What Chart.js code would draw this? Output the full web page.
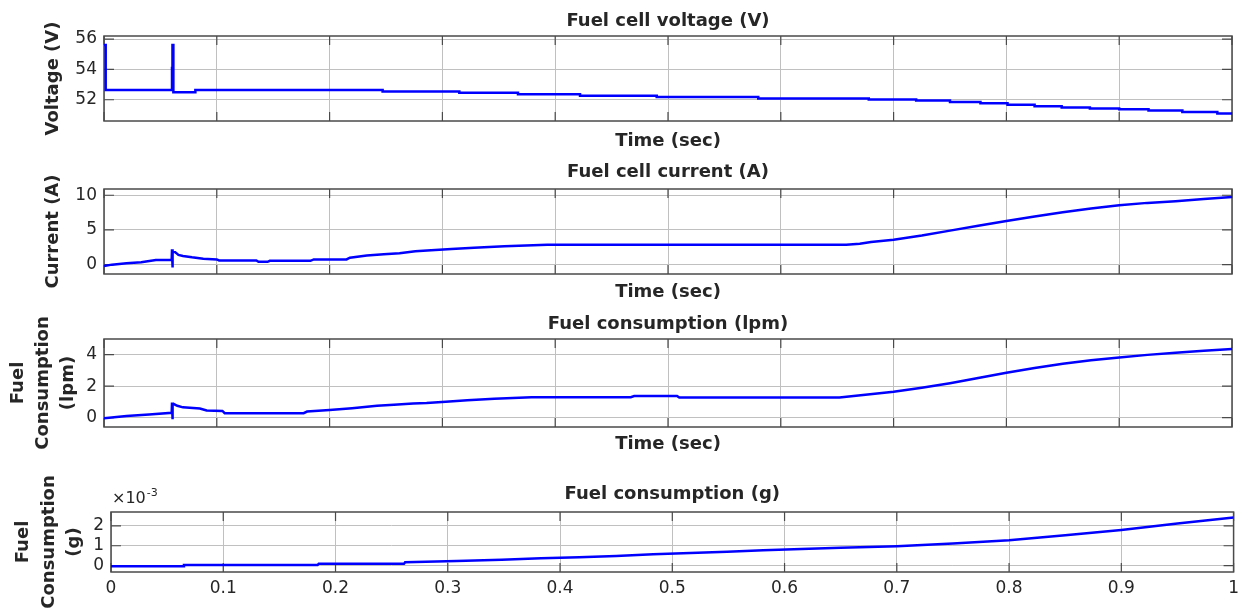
<!DOCTYPE html>
<html>
<head>
<meta charset="utf-8">
<title>Fuel cell</title>
<script src="https://cdn.jsdelivr.net/npm/chart.js"></script>
<style>
  body { margin: 0; background: #fff; }
  #wrap { position: relative; width: 1239px; height: 611px; overflow: hidden; }
  canvas { position: absolute; left: 0; }
</style>
</head>
<body>
<div id="wrap">
  <canvas id="c1" width="1239" height="160" style="top:0px"></canvas>
  <canvas id="c2" width="1239" height="160" style="top:150px"></canvas>
  <canvas id="c3" width="1239" height="160" style="top:300px"></canvas>
  <!-- a bit wider so the "1" tick label overflow doesn't pull the plot in -->
  <canvas id="c4" width="1245" height="156" style="top:455px"></canvas>
</div>
<script>
// time axis ticks (sec)
const timeTicks = [0, 0.1, 0.2, 0.3, 0.4, 0.5, 0.6, 0.7, 0.8, 0.9, 1];

// fuel cell voltage (V) - each value holds until the next time
const voltT = [0, 0.0015, 0.0603, 0.0607, 0.0615, 0.081, 0.247, 0.315, 0.367, 0.422, 0.49, 0.58,
  0.678, 0.72, 0.75, 0.777, 0.801, 0.825, 0.849, 0.874, 0.9, 0.926, 0.956, 0.987, 1.0];
const voltV = [55.6, 52.64, 54.1, 55.6, 52.5, 52.64, 52.55, 52.46, 52.36, 52.27, 52.18, 52.09,
  52.02, 51.95, 51.86, 51.77, 51.67, 51.58, 51.49, 51.43, 51.37, 51.29, 51.2, 51.1, 51.1];

// fuel cell current (A)
const curT = [0, 0.007, 0.02, 0.033, 0.046, 0.0600, 0.0603, 0.0606, 0.0610, 0.063, 0.066, 0.07, 0.078,
  0.088, 0.1, 0.102, 0.135, 0.137, 0.145, 0.147, 0.183, 0.186, 0.215, 0.218, 0.233, 0.248, 0.262,
  0.276, 0.29, 0.308, 0.328, 0.355, 0.393, 0.5, 0.6, 0.658, 0.67, 0.68, 0.7, 0.725, 0.75, 0.775,
  0.8, 0.825, 0.85, 0.875, 0.9, 0.925, 0.95, 0.975, 1.0];
const curV = [-0.2, 0, 0.2, 0.35, 0.65, 0.7, 2.2, -0.4, 1.9, 1.8, 1.4, 1.25, 1.05,
  0.85, 0.75, 0.6, 0.6, 0.4, 0.4, 0.55, 0.55, 0.75, 0.75, 1.0, 1.3, 1.5, 1.65,
  1.92, 2.06, 2.25, 2.45, 2.64, 2.85, 2.85, 2.85, 2.85, 3.0, 3.25, 3.6, 4.2, 4.9, 5.6,
  6.3, 6.95, 7.55, 8.1, 8.55, 8.9, 9.15, 9.45, 9.75];

// fuel consumption (lpm)
const lpmT = [0, 0.02, 0.04, 0.06, 0.0603, 0.0606, 0.061, 0.065, 0.07, 0.085, 0.091, 0.105, 0.107,
  0.177, 0.18, 0.2, 0.22, 0.242, 0.257, 0.274, 0.286, 0.303, 0.322, 0.346, 0.379, 0.467, 0.47,
  0.508, 0.51, 0.652, 0.675, 0.7, 0.725, 0.75, 0.775, 0.8, 0.825, 0.85, 0.875, 0.9, 0.925, 0.95,
  0.975, 1.0];
const lpmV = [-0.05, 0.1, 0.2, 0.3, 0.95, -0.1, 0.9, 0.75, 0.65, 0.58, 0.45, 0.42, 0.28,
  0.28, 0.38, 0.48, 0.6, 0.75, 0.82, 0.9, 0.93, 1.01, 1.1, 1.19, 1.29, 1.3, 1.37,
  1.37, 1.27, 1.27, 1.45, 1.64, 1.9, 2.19, 2.52, 2.85, 3.15, 3.43, 3.65, 3.83, 3.99, 4.13,
  4.25, 4.36];

// fuel consumption (g), in units of 1e-3
const gT = [0, 0.0646, 0.065, 0.184, 0.185, 0.261, 0.262, 0.308, 0.348, 0.383, 0.417, 0.45, 0.483,
  0.516, 0.549, 0.581, 0.615, 0.65, 0.7, 0.75, 0.8, 0.85, 0.9, 0.95, 1.0];
const gV = [-0.03, -0.03, 0.03, 0.03, 0.09, 0.09, 0.17, 0.235, 0.3, 0.37, 0.42, 0.485, 0.57,
  0.635, 0.7, 0.77, 0.835, 0.9, 0.98, 1.12, 1.28, 1.53, 1.8, 2.12, 2.42];

Chart.defaults.font.family = '"DejaVu Sans", sans-serif';
Chart.defaults.color = '#262626';

const textColor = '#262626';
const gridColor = '#c0c0c0';

// titles, box and inward tick marks like the matlab axes
const panelPlugin = {
  id: 'panel',
  beforeDatasetsDraw(chart, args, opts) {
    const { ctx, chartArea: a, scales } = chart;
    ctx.save();
    ctx.strokeStyle = '#4a4a4a';
    ctx.lineWidth = 1.2;
    ctx.beginPath();
    scales.x.ticks.forEach(t => {
      const px = scales.x.getPixelForValue(t.value);
      ctx.moveTo(px, a.top); ctx.lineTo(px, a.top + 9);
      ctx.moveTo(px, a.bottom); ctx.lineTo(px, a.bottom - 9);
    });
    scales.y.ticks.forEach(t => {
      const py = scales.y.getPixelForValue(t.value);
      ctx.moveTo(a.left, py); ctx.lineTo(a.left + 10, py);
      ctx.moveTo(a.right, py); ctx.lineTo(a.right - 10, py);
    });
    ctx.stroke();
    ctx.lineWidth = 1.5;
    ctx.strokeRect(a.left, a.top, a.right - a.left, a.bottom - a.top);
    ctx.restore();
  },
  afterDraw(chart, args, opts) {
    const { ctx, chartArea: a } = chart;
    ctx.save();
    ctx.fillStyle = textColor;
    ctx.font = 'bold 18px "DejaVu Sans"';
    ctx.textAlign = 'center';
    ctx.textBaseline = 'middle';
    ctx.fillText(opts.title, (a.left + a.right) / 2, opts.titleY);
    if (opts.exponent) {
      ctx.textAlign = 'left';
      ctx.font = '16px "DejaVu Sans"';
      ctx.fillText('×10', a.left + 1, opts.titleY + 5);
      const w = ctx.measureText('×10').width;
      ctx.font = '11px "DejaVu Sans"';
      ctx.fillText(opts.exponent, a.left + 2 + w, opts.titleY - 1);
    }
    ctx.restore();
  }
};

function panel(id, p) {
  new Chart(document.getElementById(id), {
    type: 'line',
    data: {
      datasets: [{
        data: p.t.map((t, i) => ({ x: t, y: p.v[i] })),
        borderColor: '#0000ff',
        borderWidth: 2.5,
        pointRadius: 0,
        stepped: p.stepped || false,
        tension: 0
      }]
    },
    options: {
      responsive: false,
      animation: false,
      layout: { padding: { top: p.areaTop, right: p.right, left: 0, bottom: 0 } },
      plugins: {
        legend: { display: false },
        tooltip: { enabled: false },
        panel: { title: p.title, titleY: p.titleY, exponent: p.exponent }
      },
      scales: {
        x: {
          type: 'linear',
          min: 0,
          max: 1,
          afterBuildTicks: s => { s.ticks = timeTicks.map(v => ({ value: v })); },
          ticks: {
            display: p.xLabels,
            font: { size: 17 },
            color: textColor,
            padding: 6,
            callback: v => String(Math.round(v * 10) / 10)
          },
          grid: { color: gridColor, drawTicks: false },
          border: { display: false },
          title: {
            display: !!p.xTitle,
            text: p.xTitle,
            color: textColor,
            font: { size: 18, weight: 'bold' },
            padding: { top: 0, bottom: p.xTitlePad }
          },
          afterFit: s => { s.height = p.xHeight; }
        },
        y: {
          min: p.yMin,
          max: p.yMax,
          ticks: { stepSize: p.yStep, includeBounds: false, font: { size: 17 }, color: textColor, padding: 7 },
          grid: { color: gridColor, drawTicks: false },
          border: { display: false },
          title: {
            display: true,
            text: p.yTitle,
            color: textColor,
            font: { size: 18, weight: 'bold', lineHeight: p.yLineHeight || 1.2 },
            padding: { top: p.yTitlePad, bottom: 0 }
          },
          afterFit: s => { s.width = p.left; }
        }
      }
    },
    plugins: [panelPlugin]
  });
}

panel('c1', {
  t: voltT, v: voltV, stepped: true,
  title: 'Fuel cell voltage (V)', titleY: 21,
  areaTop: 36, right: 7, left: 104, xHeight: 39, xLabels: false,
  xTitle: 'Time (sec)', xTitlePad: 8,
  yMin: 50.6, yMax: 56.2, yStep: 2,
  yTitle: 'Voltage (V)', yTitlePad: 43
});

panel('c2', {
  t: curT, v: curV,
  title: 'Fuel cell current (A)', titleY: 22,
  areaTop: 39, right: 7, left: 104, xHeight: 36, xLabels: false,
  xTitle: 'Time (sec)', xTitlePad: 7,
  yMin: -1.35, yMax: 10.9, yStep: 5,
  yTitle: 'Current (A)', yTitlePad: 43
});

panel('c3', {
  t: lpmT, v: lpmV,
  title: 'Fuel consumption (lpm)', titleY: 24,
  areaTop: 39, right: 7, left: 104, xHeight: 33, xLabels: false,
  xTitle: 'Time (sec)', xTitlePad: 5,
  yMin: -0.6, yMax: 5, yStep: 2,
  yTitle: ['Fuel', 'Consumption', '(lpm)'], yLineHeight: 1.38, yTitlePad: 6
});

panel('c4', {
  t: gT, v: gV,
  title: 'Fuel consumption (g)', titleY: 39, exponent: '-3',
  areaTop: 57, right: 6, left: 111, xHeight: 39, xLabels: true,
  xTitle: '', xTitlePad: 0,
  yMin: -0.32, yMax: 2.7, yStep: 1,
  yTitle: ['Fuel', 'Consumption', '(g)'], yLineHeight: 1.44, yTitlePad: 10
});
</script>
</body>
</html>
